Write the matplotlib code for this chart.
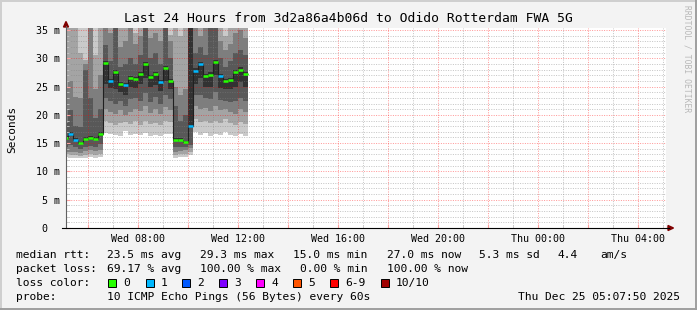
import matplotlib
matplotlib.use("Agg")
import matplotlib.pyplot as plt
import numpy as np
from matplotlib.patches import Rectangle, Polygon
from matplotlib.lines import Line2D

# --- data: 12 minute steps, hours since Wed 00:00 ---
start_hour = 5.0
step_hours = 0.2

median_ms = [15.9, 16.6, 15.6, 15.0, 15.8, 15.9, 15.8, 16.6,
             29.2, 26.0, 27.6, 25.5, 25.3, 26.5, 26.3, 27.2, 28.9, 26.7, 27.2, 25.8, 28.3, 26.0,
             15.6, 15.6, 15.2, 18.0,
             27.8, 28.9, 26.9, 27.1, 29.3, 26.9, 26.0, 26.2, 27.5, 28.0, 27.2]

loss_count = [0, 1, 1, 0, 0, 0, 0, 0,
              0, 1, 0, 0, 1, 0, 0, 0, 0, 0, 0, 1, 0, 0,
              0, 0, 0, 1,
              1, 1, 0, 0, 0, 1, 0, 0, 0, 0, 0]

# sorted ping times per step (values above 35 ms run off the top)
pings_ms = [
    [12.5, 13.0, 13.5, 14.3, 15.6, 16.2, 18.5, 25.0, 40, 45],
    [12.4, 12.9, 13.4, 14.6, 16.3, 16.9, 20.9, 26.0, 40, 45],
    [12.4, 12.9, 13.5, 14.4, 15.3, 15.9, 18.0, 23.2, 40, 45],
    [12.3, 12.8, 13.3, 14.0, 14.8, 15.2, 17.8, 23.0, 30.9, 45],
    [12.4, 12.9, 13.6, 14.4, 15.5, 16.1, 27.9, 29.0, 29.7, 45],
    [12.5, 13.0, 13.7, 14.5, 15.6, 16.2, 23.0, 40, 42, 45],
    [12.4, 12.9, 13.6, 14.4, 15.5, 16.1, 19.5, 24.5, 30.5, 45],
    [12.6, 13.1, 13.8, 14.8, 16.3, 16.9, 21.0, 27.0, 40, 45],
    [16.8, 19.0, 21.0, 23.0, 25.5, 29.6, 32.3, 36, 40, 45],
    [16.6, 18.5, 20.5, 22.5, 24.8, 26.4, 29.5, 34.5, 40, 45],
    [16.4, 18.2, 20.2, 22.0, 24.5, 28.0, 36, 40, 42, 45],
    [16.3, 18.6, 20.8, 22.4, 24.0, 25.8, 28.5, 32.0, 40, 45],
    [17.2, 18.8, 20.0, 21.5, 23.5, 25.6, 29.0, 33.0, 40, 45],
    [16.5, 18.4, 20.5, 22.8, 25.0, 26.9, 30.0, 36, 40, 45],
    [16.6, 18.9, 21.0, 23.0, 24.8, 26.7, 29.0, 32.5, 34.5, 45],
    [16.4, 18.2, 20.6, 22.5, 25.5, 27.6, 30.5, 34.0, 40, 45],
    [16.8, 19.0, 21.5, 23.8, 26.5, 29.3, 36, 40, 42, 45],
    [16.2, 18.4, 20.4, 22.2, 25.0, 27.1, 30.0, 33.5, 40, 45],
    [16.5, 18.6, 21.0, 23.2, 25.2, 27.6, 31.0, 34.5, 40, 45],
    [16.3, 18.2, 20.2, 22.0, 24.2, 26.2, 29.0, 33.0, 40, 45],
    [16.7, 19.0, 21.3, 23.5, 26.0, 28.7, 36, 40, 42, 45],
    [16.6, 18.7, 20.8, 22.8, 24.5, 26.4, 30.0, 33.0, 34.2, 45],
    [12.4, 12.9, 13.4, 14.3, 15.3, 15.9, 21.5, 25.0, 40, 45],
    [12.5, 13.0, 13.6, 14.4, 15.3, 15.9, 19.0, 23.5, 34.0, 45],
    [12.6, 13.1, 13.7, 14.4, 15.0, 15.4, 20.0, 24.5, 40, 45],
    [12.9, 13.5, 14.2, 14.7, 17.6, 36, 40, 42, 44, 45],
    [17.0, 19.2, 21.5, 23.5, 25.5, 28.2, 31.0, 35.5, 40, 45],
    [16.5, 18.8, 21.0, 23.5, 26.5, 29.3, 32.0, 34.0, 40, 45],
    [16.8, 19.0, 21.2, 23.0, 25.0, 27.3, 30.5, 36, 40, 45],
    [16.3, 18.5, 20.6, 22.8, 25.0, 27.5, 36, 40, 42, 45],
    [16.6, 19.0, 21.5, 24.0, 27.0, 29.7, 36, 40, 42, 45],
    [16.4, 18.6, 20.8, 22.6, 24.8, 27.3, 30.0, 33.0, 40, 45],
    [16.9, 19.2, 21.0, 22.5, 24.5, 26.4, 28.5, 31.5, 34.0, 45],
    [16.5, 18.5, 20.5, 22.2, 24.6, 26.6, 29.5, 32.5, 40, 45],
    [16.2, 18.2, 20.2, 22.4, 25.0, 27.9, 31.0, 34.5, 40, 45],
    [16.6, 18.8, 21.0, 23.0, 25.8, 28.4, 31.5, 35.0, 40, 45],
    [16.3, 18.4, 20.5, 22.5, 25.0, 27.6, 30.5, 33.5, 40, 45],
]

loss_labels = ["0", "1", "2", "3", "4", "5", "6-9", "10/10"]
loss_colors = ["#26ff00", "#00b8ff", "#0059ff", "#7e00ff",
               "#ff00fe", "#ff5500", "#ff0000", "#a10000"]

x_label_hours = [8, 12, 16, 20, 24, 28]
x_label_text = ["Wed 08:00", "Wed 12:00", "Wed 16:00", "Wed 20:00", "Thu 00:00", "Thu 04:00"]

title = "Last 24 Hours from 3d2a86a4b06d to Odido Rotterdam FWA 5G"
end_hour = 24 + 5 + 7 / 60 + 50 / 3600

# --- figure ---
W, H = 697, 310
MONO = "DejaVu Sans Mono"
fig = plt.figure(figsize=(W / 100, H / 100), dpi=100, facecolor="#f3f3f3")


def fx(px):
    return px / W


def fy(py):
    return 1 - py / H


ax = fig.add_axes([fx(66), fy(228), 600 / W, 200 / H])
ax.set_facecolor("white")
ax.set_xlim(end_hour - 24, end_hour)
ax.set_ylim(0, 35.35)
for s in ax.spines.values():
    s.set_visible(False)

pings = np.array(pings_ms)
starts = start_hour + step_hours * np.arange(len(median_ms))
edges = np.append(starts, starts[-1] + step_hours)

# smoke: outer band first, darker bands stacked on top
for i in range(5):
    shade = int(190 / 5 * (5 - (i + 1))) + 50
    col = "#" + ("%02x" % shade) * 3
    lo = np.append(pings[:, i], pings[-1, i])
    hi = np.append(pings[:, 9 - i], pings[-1, 9 - i])
    ax.fill_between(edges, lo, hi, step="post", color=col, linewidth=0, zorder=1)

# median line and loss coloured markers
ax.stairs(median_ms, edges, baseline=None, color="#202020", lw=0.8, zorder=3)


def loss_idx(c):
    if c <= 5:
        return c
    if c < 10:
        return 6
    return 7


ax.hlines(median_ms, starts, starts + step_hours,
          colors=[loss_colors[loss_idx(c)] for c in loss_count], lw=1.8, zorder=4)

# grid
ax.set_xticks(np.arange(6, 30, 2))
ax.set_xticks(np.arange(6, 30, 1), minor=True)
ax.set_yticks(np.arange(0, 36, 5))
ax.set_yticks(np.arange(0, 36, 1), minor=True)
ax.set_axisbelow(False)

ax.set_xticklabels([x_label_text[x_label_hours.index(h)] if h in x_label_hours else ""
                    for h in np.arange(6, 30, 2)])
ax.set_yticklabels(["0  "] + ["%d m" % v for v in range(5, 36, 5)])
ax.tick_params(which="both", direction="in", labelsize=7.2, pad=4)
ax.tick_params(which="major", length=3, color="#ffa0a0")
ax.tick_params(which="minor", length=2, color="#c8c8c8")
for lab in ax.get_xticklabels() + ax.get_yticklabels():
    lab.set_family(MONO)

ax.grid(True, which="minor", color="#808080", alpha=0.45, lw=0.72,
        linestyle=(0, (1, 1.4)))
ax.grid(True, which="major", color="#ff0000", alpha=0.4, lw=0.72,
        linestyle=(0, (1, 1.4)))

# axis lines and arrows
fig.add_artist(Line2D([fx(66), fx(66)], [fy(228), fy(26)], color="#606060", lw=0.8))
fig.add_artist(Line2D([fx(62), fx(669)], [fy(228), fy(228)], color="#000000", lw=0.8))
fig.add_artist(Polygon([[fx(63.5), fy(27)], [fx(68.5), fy(27)], [fx(66), fy(21.5)]],
                       closed=True, color="#800000", transform=fig.transFigure))
fig.add_artist(Polygon([[fx(668), fy(225.5)], [fx(668), fy(230.5)], [fx(673.5), fy(228)]],
                       closed=True, color="#800000", transform=fig.transFigure))

# texts
fig.text(0.5, fy(19), title, family=MONO, fontsize=9.4, ha="center", va="center")
fig.text(fx(12), fy(129), "Seconds", family=MONO, fontsize=8, rotation=90,
         ha="center", va="center")
fig.text(fx(687), fy(5), "RRDTOOL / TOBI OETIKER", family=MONO, fontsize=5.8,
         rotation=270, ha="center", va="top", color="#b8b8b8")

leg = dict(family=MONO, fontsize=8.1, va="center")
row1 = [(16.4, "median rtt:"), (107, "23.5 ms avg"), (200, "29.3 ms max"),
        (293, "15.0 ms min"), (387, "27.0 ms now"), (479, "5.3 ms sd"),
        (558, "4.4"), (600, "am/s")]
row2 = [(16.4, "packet loss:"), (107, "69.17 % avg"), (200, "100.00 % max"),
        (300, "0.00 % min"), (387, "100.00 % now")]
for x, s in row1:
    fig.text(fx(x), fy(255), s, **leg)
for x, s in row2:
    fig.text(fx(x), fy(269), s, **leg)

fig.text(fx(16.4), fy(283), "loss color:", **leg)
box_x = [108, 146, 182, 219, 256, 293, 330, 381]
for bx, lab, col in zip(box_x, loss_labels, loss_colors):
    fig.add_artist(Rectangle((fx(bx), fy(287)), 8 / W, 8 / H, facecolor=col,
                             edgecolor="black", lw=0.7, transform=fig.transFigure))
    fig.text(fx(bx + 15), fy(283), lab, **leg)

fig.text(fx(16.4), fy(297), "probe:", **leg)
fig.text(fx(107), fy(297), "10 ICMP Echo Pings (56 Bytes) every 60s", **leg)
fig.text(fx(680), fy(297), "Thu Dec 25 05:07:50 2025", ha="right", **leg)

# image frame
fig.add_artist(Line2D([0, 1], [fy(0.7), fy(0.7)], color="#cfcfcf", lw=1.4))
fig.add_artist(Line2D([fx(0.7), fx(0.7)], [0, 1], color="#cfcfcf", lw=1.4))
fig.add_artist(Line2D([0, 1], [fy(309.3), fy(309.3)], color="#9e9e9e", lw=1.4))
fig.add_artist(Line2D([fx(696.3), fx(696.3)], [0, 1], color="#9e9e9e", lw=1.4))

fig.savefig("out.png", dpi=100, facecolor=fig.get_facecolor())
